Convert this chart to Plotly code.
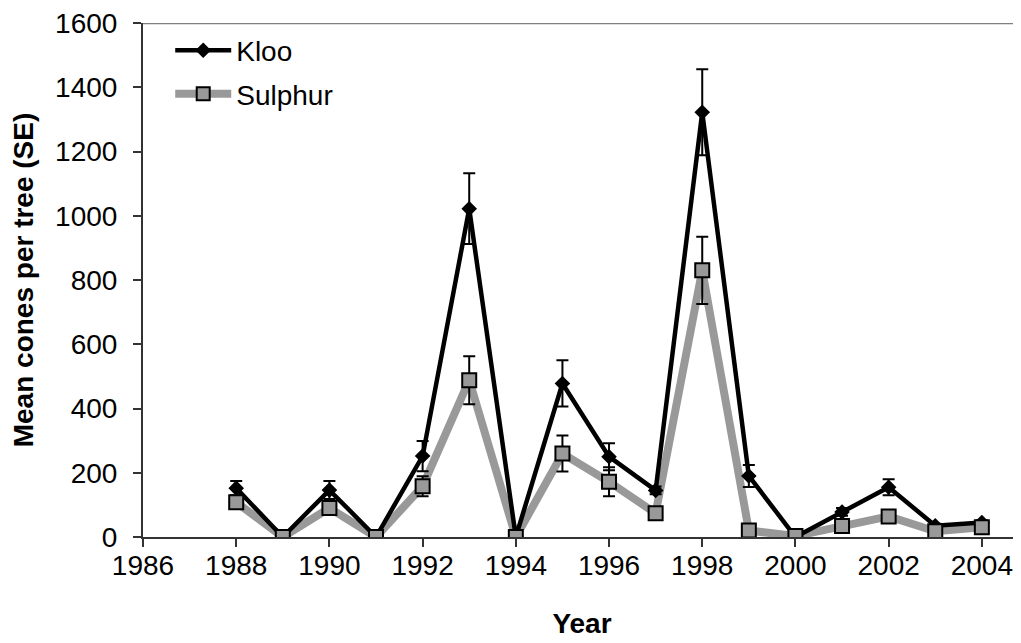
import plotly.graph_objects as go

years = list(range(1988, 2005))

kloo = [152, 0, 146, 0, 252, 1022, 0, 478, 250, 145, 1322, 190, 0, 78, 155, 35, 45]
kloo_se = [22, 0, 28, 0, 47, 110, 0, 72, 42, 12, 134, 34, 0, 12, 25, 6, 6]

sulphur = [108, 0, 90, 0, 158, 488, 0, 260, 172, 74, 830, 20, 3, 34, 64, 18, 30]
sulphur_se = [8, 0, 12, 0, 31, 75, 0, 56, 45, 6, 105, 4, 1, 8, 10, 4, 5]

x_ticks = list(range(1986, 2005, 2))
y_ticks = list(range(0, 1601, 200))

FONT = 'Arial, Liberation Sans, sans-serif'
GREY = '#999999'

fig = go.Figure()

# lines first, markers on top (as the excel chart draws them)
fig.add_trace(go.Scatter(
    x=years, y=sulphur, mode='lines',
    line=dict(color=GREY, width=8),
    showlegend=False, hoverinfo='skip'
))
fig.add_trace(go.Scatter(
    x=years, y=kloo, mode='lines+markers', name='Kloo',
    line=dict(color='black', width=4.5),
    marker=dict(symbol='diamond', size=12, color='black'),
    error_y=dict(type='data', array=kloo_se, color='black', thickness=2, width=6),
    showlegend=False
))
fig.add_trace(go.Scatter(
    x=years, y=sulphur, mode='markers', name='Sulphur',
    marker=dict(symbol='square', size=14, color=GREY, line=dict(color='black', width=2)),
    error_y=dict(type='data', array=sulphur_se, color='black', thickness=2, width=6),
    showlegend=False
))

# legend entries
fig.add_trace(go.Scatter(
    x=[None], y=[None], mode='lines+markers', name='Kloo', legendgroup='k',
    line=dict(color='black', width=4.5),
    marker=dict(symbol='diamond', size=12, color='black')
))
fig.add_trace(go.Scatter(
    x=[None], y=[None], mode='lines+markers', name='Sulphur', legendgroup='s',
    line=dict(color=GREY, width=8),
    marker=dict(symbol='square', size=13, color=GREY, line=dict(color='black', width=2))
))

# page body has an 8px margin, so the figure is 8px smaller than the window
fig.update_layout(
    width=1013, height=635,
    paper_bgcolor='white', plot_bgcolor='white',
    font=dict(family=FONT, size=28, color='black'),
    margin=dict(l=135, r=0, t=15, b=106),
    showlegend=True,
    legend=dict(x=0.031, y=0.995, xanchor='left', yanchor='top',
                bgcolor='rgba(0,0,0,0)', font=dict(size=28),
                traceorder='grouped', tracegroupgap=4, itemwidth=56),
    shapes=[dict(type='line', xref='paper', yref='y', x0=0, x1=1, y0=1600, y1=1600,
                 line=dict(color='#808080', width=2.5))],
)

fig.update_xaxes(
    range=[1986, 2004.84], tickvals=x_ticks, showgrid=False, zeroline=False,
    showline=True, linecolor='#333333', linewidth=2,
    ticks='outside', ticklen=8, tickwidth=1.5, tickcolor='#333333',
    ticklabelstandoff=-6, ticklabeloverflow='allow', tickfont=dict(size=28),
    title=dict(text='<b>Year</b>', standoff=34, font=dict(size=28))
)
fig.update_yaxes(
    range=[0, 1600], tickvals=y_ticks, showgrid=False, zeroline=False,
    showline=True, linecolor='#333333', linewidth=2,
    ticks='outside', ticklen=8, tickwidth=1.5, tickcolor='#333333',
    ticklabelstandoff=10, ticklabeloverflow='allow', tickfont=dict(size=28),
    title=dict(text='<b>Mean cones per tree (SE)</b>', standoff=20, font=dict(size=28))
)

fig.write_html("out.html")
